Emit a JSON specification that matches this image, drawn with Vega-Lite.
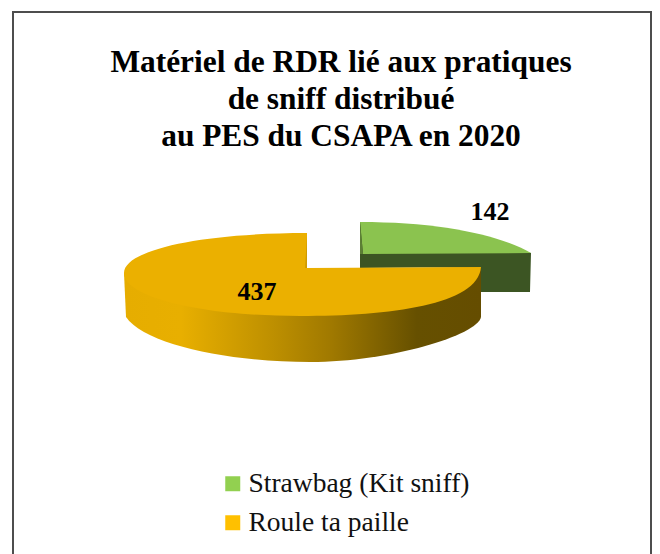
{
  "$schema": "https://vega.github.io/schema/vega-lite/v6.json",
  "width": 638,
  "height": 560,
  "autosize": "none",
  "padding": {"left": 13, "top": 12, "right": 9, "bottom": 0},
  "background": "white",
  "view": {"stroke": "#4d4d4d", "strokeWidth": 2, "fill": "white"},
  "config": {"font": "Liberation Serif"},
  "title": {
    "text": ["Matériel de RDR lié aux pratiques", "de sniff  distribué", "au PES du CSAPA en 2020"],
    "font": "Liberation Serif", "fontSize": 31.4, "fontWeight": "bold", "color": "#000000",
    "anchor": "middle", "lineHeight": 37, "baseline": "top", "offset": -140, "dx": 9
  },
  "data": {"values": [
    {"categorie": "Strawbag (Kit sniff)", "valeur": 142},
    {"categorie": "Roule ta paille", "valeur": 437}
  ]},
  "resolve": {"scale": {"shape": "independent", "fill": "independent"}},
  "layer": [
    {
      "transform": [{"filter": "datum.categorie === 'Strawbag (Kit sniff)'"}],
      "mark": {"type": "point", "filled": true, "size": 4, "opacity": 1, "fill": "#3c5523"},
      "encoding": {
        "shape": {"field": "categorie", "legend": null, "scale": {"domain": ["Strawbag (Kit sniff)"], "range": ["M 28 -70 L 199 -39 L 198 0 L 149 0 L 149 -25 L 28 -24 Z"]}}
      }
    },
    {
      "transform": [{"filter": "datum.categorie === 'Roule ta paille'"}],
      "mark": {"type": "point", "filled": true, "size": 4, "opacity": 1,
        "fill": {"gradient": "linear", "x1": 0, "y1": 0, "x2": 1, "y2": 0, "stops": [
          {"offset": 0, "color": "#e6ad00"}, {"offset": 0.16, "color": "#e8af00"},
          {"offset": 0.42, "color": "#bd8f00"}, {"offset": 0.58, "color": "#a07900"},
          {"offset": 0.82, "color": "#665000"}, {"offset": 1, "color": "#654d00"}]}},
      "encoding": {
        "shape": {"field": "categorie", "legend": null, "scale": {"domain": ["Roule ta paille"], "range": ["M -208 -19 L -206 25 C -187 53 -102 70 -22 70 C 58 70 146 43 149 25 L 149 -25 Z"]}}
      }
    },
    {
      "mark": {"type": "point", "filled": true, "size": 4, "opacity": 1},
      "encoding": {
        "color": {"field": "categorie", "sort": null, "scale": {"domain": ["Strawbag (Kit sniff)", "Roule ta paille"], "range": ["#92d050", "#ffc000"]},
          "legend": {"title": null, "orient": "none", "legendX": 206, "legendY": 458, "symbolType": "square", "symbolSize": 225, "labelFont": "Liberation Serif", "labelFontSize": 27.5, "labelColor": "#111111", "rowPadding": 10, "labelOffset": 2, "labelLimit": 400, "symbolStrokeWidth": 0, "symbolOpacity": 1}}
      }
    },
    {
      "mark": {"type": "point", "filled": true, "size": 4, "opacity": 1},
      "encoding": {
        "fill": {"field": "categorie", "sort": null, "legend": null, "scale": {"domain": ["Strawbag (Kit sniff)", "Roule ta paille"], "range": ["#8bc34f", "#ebb000"]}},
        "shape": {"field": "categorie", "legend": null, "scale": {"domain": ["Strawbag (Kit sniff)", "Roule ta paille"], "range": [
          "M 28 -70 C 108 -70 168 -57 199 -39 L 31 -38 Z",
          "M -25 -59 L -25 -24 L 149 -25 C 146 13 58 24 -32 24 C -132 24 -208 5 -208 -19 C -208 -42 -132 -59 -25 -59 Z"]}}
      }
    },
    {
      "mark": {"type": "point", "filled": true, "size": 4, "opacity": 1},
      "encoding": {
        "fill": {"field": "categorie", "sort": null, "legend": null, "scale": {"domain": ["Strawbag (Kit sniff)", "Roule ta paille"], "range": ["#5c7f35", "#cf9b00"]}},
        "shape": {"field": "categorie", "legend": null, "scale": {"domain": ["Strawbag (Kit sniff)", "Roule ta paille"], "range": [
          "M 28 -70 L 31 -38 L 28 -38 Z",
          "M -25 -56 L -25 -24 L -27 -24 Z"]}}
      }
    },
    {
      "transform": [{"filter": "datum.categorie === 'Strawbag (Kit sniff)'"}],
      "mark": {"type": "text", "font": "Liberation Serif", "fontWeight": "bold", "fontSize": 26, "color": "#000000", "dx": 158, "dy": -80},
      "encoding": {"text": {"field": "valeur", "type": "quantitative"}}
    },
    {
      "transform": [{"filter": "datum.categorie === 'Roule ta paille'"}],
      "mark": {"type": "text", "font": "Liberation Serif", "fontWeight": "bold", "fontSize": 26, "color": "#000000", "dx": -75, "dy": 0},
      "encoding": {"text": {"field": "valeur", "type": "quantitative"}}
    }
  ]
}
